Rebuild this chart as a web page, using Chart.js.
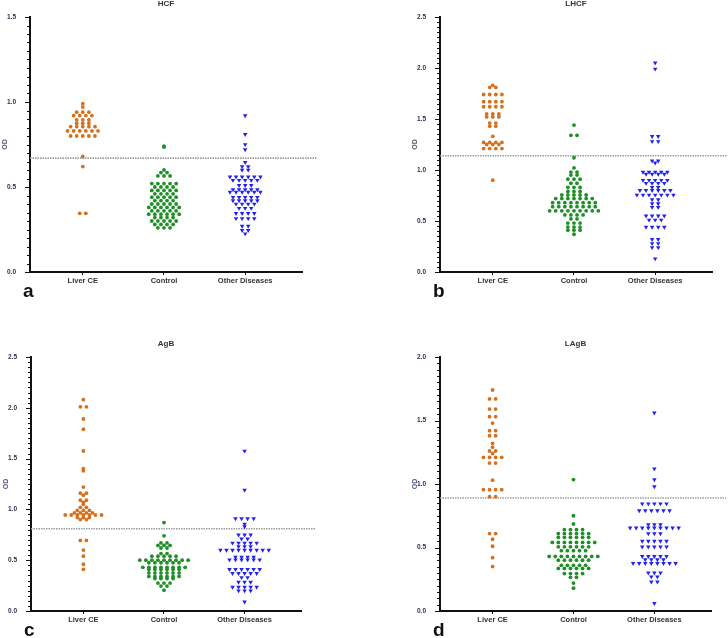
<!DOCTYPE html>
<html>
<head>
<meta charset="utf-8">
<script src="https://cdn.jsdelivr.net/npm/chart.js@4.4.1/dist/chart.umd.min.js"></script>
<style>
body{margin:0;background:#fff;}
#wrap{position:relative;width:728px;height:638px;overflow:hidden;}
.pn{position:absolute;}
</style>
</head>
<body>
<div id="wrap">
  <canvas class="pn" id="pa" width="364" height="300" style="left:0;top:0"></canvas>
  <canvas class="pn" id="pb" width="364" height="300" style="left:364px;top:0"></canvas>
  <canvas class="pn" id="pc" width="364" height="338" style="left:0;top:300px"></canvas>
  <canvas class="pn" id="pd" width="364" height="338" style="left:364px;top:300px"></canvas>
</div>
<script>
var groups = ['Liver CE', 'Control', 'Other Diseases'];
var titles = ['HCF', 'LHCF', 'AgB', 'LAgB'];
var letters = ['a', 'b', 'c', 'd'];
var yMax = [1.5, 2.5, 2.5, 2.0];
var cutoff = [0.67, 1.14, 0.81, 0.89];

// HCF
var hcfLiver = [0.99, 0.97, 0.94,0.94,0.94, 0.92,0.92,0.92,0.92, 0.895,0.895,0.895, 0.875,0.875,0.875,
  0.855,0.855,0.855,0.855,0.855, 0.83,0.83,0.83,0.83,0.83,0.83, 0.80,0.80,0.80,0.80,0.80, 0.68, 0.62, 0.345,0.345];
var hcfControl = [0.74, 0.735, 0.60, 0.585,0.585, 0.565,0.565,0.565, 0.52,0.52,0.52,0.52,0.52, 0.50,0.50,0.50,0.50,
  0.48,0.48,0.48,0.48,0.48, 0.46,0.46,0.46,0.46, 0.44,0.44,0.44,0.44,0.44, 0.42,0.42,0.42,0.42,
  0.40,0.40,0.40,0.40,0.40, 0.38,0.38,0.38,0.38,0.38,0.38, 0.36,0.36,0.36,0.36,0.36,
  0.34,0.34,0.34,0.34,0.34,0.34, 0.32,0.32,0.32,0.32, 0.30,0.30,0.30,0.30,0.30, 0.28,0.28,0.28,0.28, 0.26,0.26,0.26];
var hcfOther = [0.92, 0.81, 0.75, 0.72, 0.645, 0.62,0.62, 0.60,0.60, 0.56,0.56,0.56,0.56,0.56,0.56,
  0.54,0.54,0.54,0.54,0.54, 0.51,0.51,0.51, 0.485,0.485,0.485,0.485,0.485, 0.47,0.47,0.47,0.47,0.47,0.47,
  0.44,0.44,0.44,0.44,0.44, 0.42,0.42,0.42,0.42,0.42, 0.40,0.40,0.40,0.40, 0.375,0.375,0.375,
  0.345,0.345,0.345,0.345, 0.315,0.315,0.315,0.315, 0.27,0.27, 0.245,0.245, 0.225];

// LHCF
var lhcfLiver = [1.83, 1.81,1.81, 1.74,1.74,1.74,1.74, 1.67,1.67,1.67,1.67, 1.62,1.62,1.62,1.62,
  1.55,1.55,1.55, 1.52,1.52,1.52, 1.46,1.46, 1.43,1.43, 1.33, 1.27,1.27,1.27,1.27, 1.25,1.25,1.25,
  1.21,1.21,1.21,1.21, 0.90];
var lhcfControl = [1.44, 1.34,1.34, 1.12, 1.02, 0.98,0.98, 0.95,0.95, 0.91,0.91,0.91, 0.87,0.87, 0.83,0.83,0.83,
  0.79,0.79,0.79, 0.755,0.755,0.755,0.755,0.755, 0.72,0.72,0.72,0.72,0.72,0.72,0.72,
  0.68,0.68,0.68,0.68,0.68,0.68,0.68,0.68, 0.64,0.64,0.64,0.64,0.64,0.64,0.64,0.64,
  0.60,0.60,0.60,0.60,0.60,0.60,0.60,0.60,0.60, 0.56,0.56,0.56,0.56, 0.52,0.52, 0.48,0.48,0.48,
  0.44,0.44,0.44, 0.41,0.41,0.41, 0.37];
var lhcfOther = [2.05, 1.99, 1.33,1.33, 1.28,1.28, 1.09,1.09, 1.07, 0.98,0.98,0.98,0.98,0.98, 0.96,0.96,0.96,0.96,
  0.90,0.90,0.90,0.90,0.90, 0.87,0.87,0.87,0.87, 0.83,0.83, 0.80,0.80,0.80,0.80,0.80,0.80,
  0.755,0.755,0.755,0.755,0.755,0.755,0.755, 0.71,0.71, 0.67,0.67, 0.635,0.635, 0.55,0.55,0.55,0.55,
  0.51,0.51,0.51, 0.44,0.44,0.44,0.44, 0.32,0.32, 0.28,0.28, 0.24,0.24, 0.13];

// AgB
var agbLiver = [2.08, 2.01,2.01, 1.89, 1.79, 1.575, 1.40, 1.38, 1.22, 1.16,1.16, 1.14, 1.09,1.09, 1.07, 1.05,
  1.02,1.02, 0.99,0.99,0.99, 0.965,0.965,0.965,0.965, 0.945,0.945,0.945,0.945,0.945,0.945,0.945,
  0.92,0.92,0.92, 0.90,0.90, 0.695,0.695, 0.60, 0.54, 0.46, 0.41];
var agbControl = [0.87, 0.74, 0.67,0.67, 0.645,0.645,0.645, 0.62,0.62, 0.565,0.565, 0.54,0.54,0.54,0.54,0.54,
  0.50,0.50,0.50,0.50,0.50,0.50,0.50,0.50,0.50, 0.475,0.475,0.475,0.475,0.475,0.475,
  0.43,0.43,0.43,0.43,0.43,0.43,0.43,0.43, 0.41,0.41,0.41,0.41,0.41,0.41, 0.375,0.375,0.375,0.375,0.375,0.375,
  0.34,0.34,0.34,0.34,0.34,0.34, 0.32,0.32,0.32,0.32, 0.275,0.275,0.275, 0.245,0.245, 0.205];
var agbOther = [1.575, 1.19, 0.91,0.91,0.91,0.91, 0.855, 0.83, 0.75,0.75,0.75, 0.71,0.71, 0.67,0.67,0.67,0.67,0.67,
  0.635,0.635,0.635, 0.60,0.60,0.60,0.60,0.60,0.60,0.60,0.60,0.60, 0.53,0.53,0.53,0.53,
  0.505,0.505,0.505,0.505,0.505,0.505, 0.41,0.41,0.41,0.41,0.41,0.41, 0.37,0.37,0.37,0.37,0.37,
  0.33,0.33, 0.285,0.285,0.285, 0.235,0.235,0.235,0.235,0.235, 0.20,0.20,0.20, 0.09];

// LAgB
var lagbLiver = [1.74, 1.67,1.67, 1.59,1.59, 1.53,1.53, 1.48, 1.42,1.42, 1.38,1.38, 1.32, 1.29, 1.26,1.26, 1.24,
  1.21,1.21,1.21,1.21, 1.165,1.165, 1.03, 0.955,0.955,0.955,0.955, 0.90,0.90, 0.61,0.61, 0.565, 0.51, 0.42, 0.35];
var lagbControl = [1.035, 0.75, 0.685, 0.64,0.64,0.64,0.64, 0.61,0.61,0.61,0.61,0.61,0.61,
  0.58,0.58,0.58,0.58,0.58,0.58, 0.54,0.54,0.54,0.54,0.54,0.54,0.54,0.54, 0.505,0.505,0.505,0.505,0.505,0.505,
  0.475,0.475,0.475,0.475,0.475, 0.43,0.43,0.43,0.43,0.43,0.43,0.43,0.43,0.43, 0.40,0.40,0.40,0.40,0.40,0.40,
  0.36,0.36,0.36,0.36,0.36, 0.335,0.335,0.335,0.335,0.335,0.335, 0.295,0.295,0.295,0.295, 0.265,0.265, 0.22, 0.18];
var lagbOther = [1.56, 1.12, 1.035, 0.98, 0.845,0.845,0.845,0.845,0.845, 0.79,0.79,0.79,0.79,0.79,0.79,
  0.68,0.68,0.68, 0.655,0.655,0.655,0.655,0.655,0.655,0.655,0.655,0.655, 0.61,0.61,0.61,
  0.55,0.55,0.55,0.55,0.55, 0.505,0.505,0.505,0.505,0.505, 0.43,0.43,0.43,0.43,0.43, 0.405,0.405,0.405,0.405,
  0.375,0.375,0.375,0.375,0.375,0.375,0.375,0.375, 0.30,0.30,0.30, 0.27,0.27, 0.23,0.23, 0.06];

var panelData = [
  [hcfLiver, hcfControl, hcfOther],
  [lhcfLiver, lhcfControl, lhcfOther],
  [agbLiver, agbControl, agbOther],
  [lagbLiver, lagbControl, lagbOther]
];

var colors = ['#d4711f', '#1f8f28', '#2222f0'];

// layout of each canvas: y axis box width, paddings
var layouts = [
  {id: 'pa', yW: 30, right: 62, top: 17, bottom: 10},
  {id: 'pb', yW: 76, right: 16, top: 17, bottom: 10},
  {id: 'pc', yW: 31, right: 63, top: 57, bottom: 9},
  {id: 'pd', yW: 76, right: 17, top: 57, bottom: 9}
];

// spread equal values side by side (dot plot rows)
function swarm(vals, gi) {
  var rows = {}, order = [];
  vals.forEach(function (v) {
    if (!rows[v]) { rows[v] = 0; order.push(v); }
    rows[v]++;
  });
  var pts = [];
  order.forEach(function (v) {
    var n = rows[v];
    for (var i = 0; i < n; i++) pts.push({x: gi + (i - (n - 1) / 2) * 0.075, y: v});
  });
  return pts;
}

var decor = {
  id: 'decor',
  beforeDatasetsDraw: function (chart) {
    var o = chart.options.plugins.decor;
    var ctx = chart.ctx, a = chart.chartArea;
    var yc = chart.scales.y.getPixelForValue(o.cutoff);
    ctx.save();
    ctx.strokeStyle = '#9c9c9c';
    ctx.lineWidth = 1.6;
    ctx.setLineDash([1.5, 1]);
    ctx.beginPath();
    ctx.moveTo(a.left, yc);
    ctx.lineTo(a.right + 15, yc);
    ctx.stroke();
    ctx.restore();
  },
  afterDraw: function (chart) {
    var o = chart.options.plugins.decor;
    var ctx = chart.ctx, a = chart.chartArea, ys = chart.scales.y;
    ctx.save();
    // minor / major y ticks
    ctx.strokeStyle = '#111';
    ctx.lineWidth = 1;
    for (var i = 0; i <= o.yMax * 20; i++) {
      var py = Math.round(ys.getPixelForValue(i / 20)) + 0.5;
      var len = (i % 10 === 0) ? 4 : 2;
      ctx.beginPath();
      ctx.moveTo(a.left - len - 1, py);
      ctx.lineTo(a.left, py);
      ctx.stroke();
    }
    // title
    ctx.fillStyle = '#333';
    ctx.font = 'bold 8px Arial';
    ctx.textAlign = 'center';
    ctx.textBaseline = 'middle';
    ctx.fillText(o.title, (a.left + a.right) / 2, a.top - 13);
    // OD label
    ctx.save();
    ctx.translate(a.left - 25, (a.top + a.bottom) / 2);
    ctx.rotate(-Math.PI / 2);
    ctx.fillStyle = '#56607a';
    ctx.font = 'bold 7px Arial';
    ctx.fillText('OD', 0, 0);
    ctx.restore();
    // panel letter
    ctx.fillStyle = '#111';
    ctx.font = 'bold 19px Arial';
    ctx.textAlign = 'left';
    ctx.textBaseline = 'alphabetic';
    ctx.fillText(o.letter, a.left - 7, a.bottom + 25);
    ctx.restore();
  }
};

function makePanel(p) {
  var L = layouts[p];
  var sets = panelData[p].map(function (vals, gi) {
    return {
      label: groups[gi],
      data: swarm(vals, gi),
      backgroundColor: colors[gi],
      borderColor: colors[gi],
      borderWidth: 0,
      pointStyle: gi === 2 ? 'triangle' : 'circle',
      rotation: gi === 2 ? 180 : 0,
      pointRadius: gi === 2 ? 2.6 : 1.9
    };
  });
  new Chart(document.getElementById(L.id), {
    type: 'scatter',
    data: {datasets: sets},
    options: {
      responsive: false,
      animation: false,
      layout: {padding: {left: 0, right: L.right, top: L.top, bottom: L.bottom}},
      plugins: {
        legend: {display: false},
        tooltip: {enabled: false},
        decor: {cutoff: cutoff[p], yMax: yMax[p], title: titles[p], letter: letters[p]}
      },
      scales: {
        x: {
          type: 'linear',
          min: -0.65,
          max: 2.7,
          afterBuildTicks: function (s) { s.ticks = [{value: 0}, {value: 1}, {value: 2}]; },
          afterFit: function (s) { s.height = 18; },
          ticks: {
            callback: function (v) { return groups[v]; },
            font: {family: 'Arial', size: 7.5, weight: 'bold'},
            color: '#333',
            padding: 1,
            maxRotation: 0,
            autoSkip: false
          },
          grid: {drawOnChartArea: false, drawTicks: true, tickLength: 3, color: '#111'},
          border: {color: '#111', width: 2}
        },
        y: {
          min: 0,
          max: yMax[p],
          afterFit: function (s) { s.width = L.yW; },
          ticks: {
            stepSize: 0.5,
            callback: function (v) { return v.toFixed(1); },
            font: {family: 'Arial', size: 6.5, weight: 'bold'},
            color: '#2c3050',
            padding: 6
          },
          grid: {display: false},
          border: {color: '#111', width: 2}
        }
      }
    },
    plugins: [decor]
  });
}

for (var p = 0; p < 4; p++) makePanel(p);
</script>
</body>
</html>
